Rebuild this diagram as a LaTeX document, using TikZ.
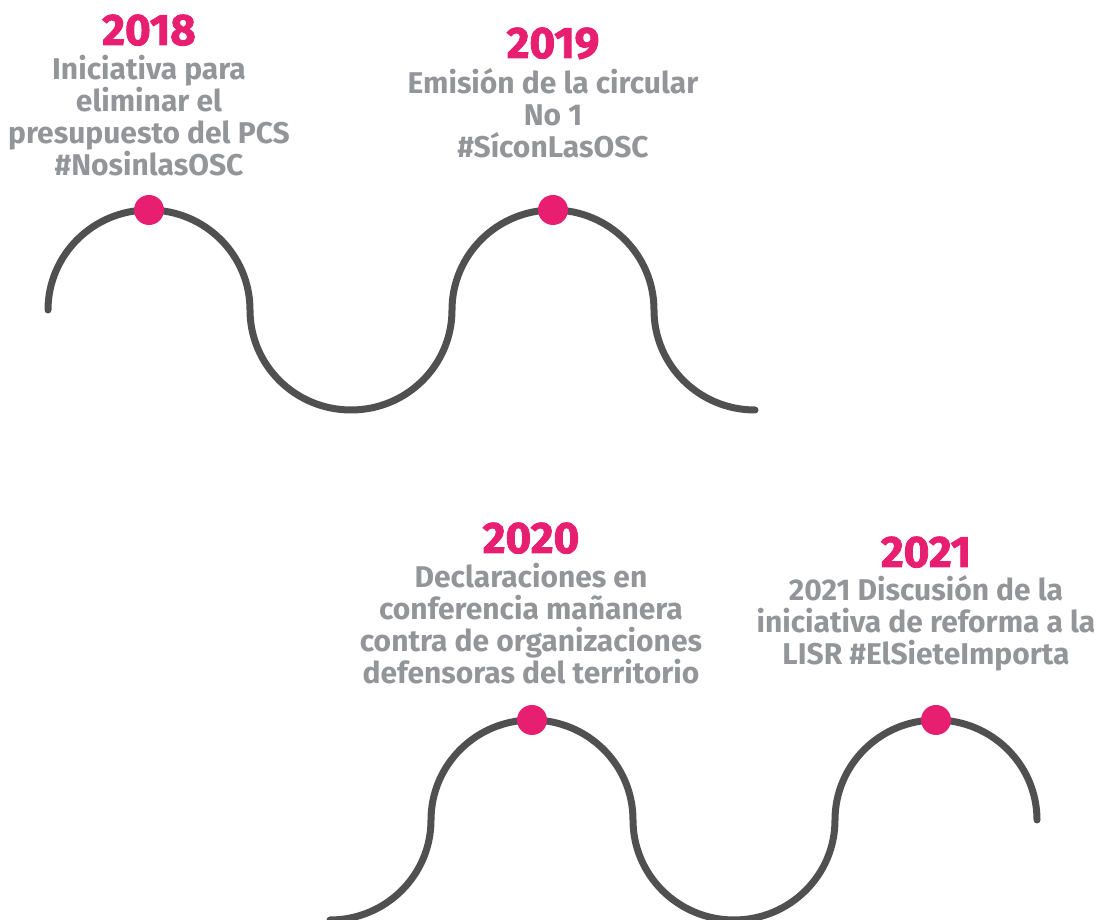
\documentclass[tikz,border=0pt]{standalone}
\usepackage{fontspec}
\setmainfont{Fira Sans}
\newfontfamily\yearfont{Fira Sans}[BoldFeatures={FakeBold=2}]
\newfontfamily\descfont{Fira Sans}
\usepackage{xcolor}
\usepackage{tikz}
\usetikzlibrary{positioning}
\definecolor{wavegray}{HTML}{505050}
\definecolor{dotpink}{HTML}{E81E70}
\definecolor{textgray}{HTML}{939598}
\tikzset{
  wave/.style={wavegray, line width=7pt, line cap=round},
  dot/.style={circle, fill=dotpink, inner sep=0pt, minimum size=30pt},
  year/.style={dotpink, font=\yearfont\bfseries\fontsize{44}{44}\selectfont, inner sep=0pt, anchor=base},
  desc/.style={textgray, font=\descfont\bfseries\fontsize{30}{32}\selectfont, align=center, inner sep=0pt}
}
\begin{document}
\begin{tikzpicture}[x=1pt,y=1pt]
            \useasboundingbox (0,0) rectangle (1102,920);
            % draw the upper wave
            \draw[wave] (48,610) arc (180:90:101 and 100) arc (90:0:101 and 100)
                arc (180:270:101 and 100) arc (270:360:101 and 100)
                arc (180:90:101 and 100) arc (90:0:101 and 100)
                arc (180:270:101 and 100);
            % draw the lower wave
            \draw[wave] (330,0) arc (270:360:101 and 100)
                arc (180:90:101 and 100) arc (90:0:101 and 100)
                arc (180:270:101 and 100) arc (270:360:101 and 100)
                arc (180:90:101 and 100) arc (90:0:101 and 100);
            % draw the dots on the crests
            \node[dot] (d2018) at (149,710) {};
            \node[dot] (d2019) at (553,710) {};
            \node[dot] (d2020) at (532,200) {};
            \node[dot] (d2021) at (936,200) {};
            % draw the years
            \node[year] (y2018) at (149,875) {2018};
            \node[year] (y2019) at (553,862) {2019};
            \node[year] (y2020) at (531,367) {2020};
            \node[year] (y2021) at (926,353) {2021};
            % draw the texts
            \node[desc, below=10pt of y2018.base] (t2018) {Iniciativa para\\eliminar el\\presupuesto del PCS\\\#NosinlasOSC};
            \node[desc, below=10pt of y2019.base] (t2019) {Emisión de la circular\\No 1\\\#SíconLasOSC};
            \node[desc, below=10pt of y2020.base] (t2020) {Declaraciones en\\conferencia mañanera\\contra de organizaciones\\defensoras del territorio};
            \node[desc, below=8pt of y2021.base] (t2021) {2021 Discusión de la\\iniciativa de reforma a la\\LISR \#ElSieteImporta};
        \end{tikzpicture}
\end{document}
